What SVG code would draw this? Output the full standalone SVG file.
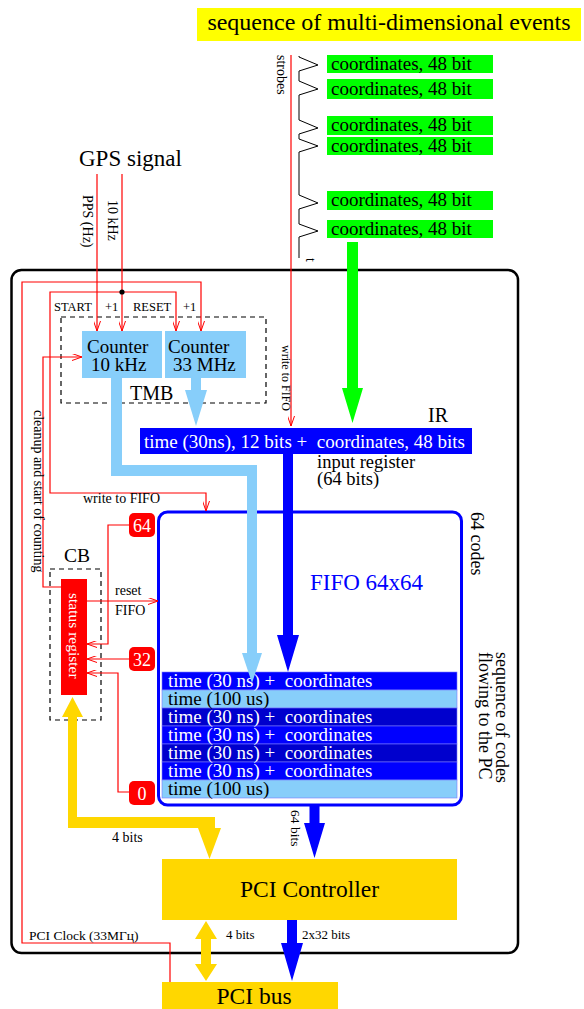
<svg xmlns="http://www.w3.org/2000/svg" width="584" height="1009" viewBox="0 0 584 1009">
<style>
text{font-family:"Liberation Serif","Times New Roman",serif;fill:#000}
.w{fill:#fff}
.red{fill:none;stroke:#ff0000;stroke-width:1.2}
.dash{fill:none;stroke:#000;stroke-width:1.2;stroke-dasharray:5 4}
.g{fill:#00ff00}
.row{stroke:#7a7aff;stroke-width:0.6}
</style>
<defs>
<marker id="ah" viewBox="0 0 10 7" refX="10" refY="3.5" markerWidth="10" markerHeight="7" markerUnits="userSpaceOnUse" orient="auto">
<path d="M0,0 L10,3.5 L0,7" fill="none" stroke="#ff0000" stroke-width="1"/>
</marker>
</defs>
<rect width="584" height="1009" fill="#fff"/>

<g id="title">
<rect x="197" y="8" width="384" height="33" fill="#ffff00"/>
<text x="389" y="30" font-size="24" text-anchor="middle">sequence of multi-dimensional events</text>
</g>

<g id="events">
<rect class="g" x="327" y="55" width="166" height="18"/>
<text x="331" y="70" font-size="19">coordinates, 48 bit</text>
<rect class="g" x="327" y="79" width="166" height="20"/>
<text x="331" y="95" font-size="19">coordinates, 48 bit</text>
<rect class="g" x="327" y="116" width="166" height="19"/>
<text x="331" y="131" font-size="19">coordinates, 48 bit</text>
<rect class="g" x="327" y="137" width="166" height="18"/>
<text x="331" y="152" font-size="19">coordinates, 48 bit</text>
<rect class="g" x="327" y="191" width="166" height="19"/>
<text x="331" y="206" font-size="19">coordinates, 48 bit</text>
<rect class="g" x="327" y="220" width="166" height="18"/>
<text x="331" y="235" font-size="19">coordinates, 48 bit</text>
</g>

<g id="strobes">
<path d="M299,56 L299,57 L318,65 L299,71 L299,81 L318,89 L299,95 L299,120 L318,128 L299,134 L299,139 L318,146 L299,152 L299,195 L318,203 L299,209 L299,224 L318,231 L299,237 L299,258" fill="none" stroke="#000" stroke-width="1"/>
<text transform="translate(277,55) rotate(90)" font-size="14">strobes</text>
<text transform="translate(306,258) rotate(90)" font-size="14">t</text>
</g>

<g id="gps">
<text x="79" y="166" font-size="23">GPS signal</text>
<text transform="translate(82.5,195) rotate(90)" font-size="14">PPS (Hz)</text>
<text transform="translate(108,200) rotate(90)" font-size="14">10 kHz</text>
</g>

<g id="board">
<rect x="11.5" y="270" width="506.5" height="683" rx="10" fill="none" stroke="#000" stroke-width="2.5"/>
</g>

<g id="tmb">
<rect class="dash" x="61" y="317" width="205" height="86"/>
<text x="130" y="400" font-size="20">TMB</text>
<text x="54" y="311" font-size="12.5">START</text>
<text x="105" y="311" font-size="12.5">+1</text>
<text x="133" y="311" font-size="12.5">RESET</text>
<text x="183" y="311" font-size="12.5">+1</text>
</g>

<g id="counter10">
<rect x="82" y="331" width="80" height="47" fill="#87cefa"/>
<text x="87" y="353" font-size="19">Counter</text>
<text x="91" y="371" font-size="19">10 kHz</text>
</g>

<g id="counter33">
<rect x="165" y="331" width="81" height="47" fill="#87cefa"/>
<text x="168" y="353" font-size="19">Counter</text>
<text x="173" y="371" font-size="19">33 MHz</text>
</g>

<g id="ir">
<rect x="140" y="428" width="332" height="26" fill="#0000ff"/>
<text class="w" x="144" y="448" font-size="19" xml:space="preserve">time (30ns), 12 bits +  coordinates, 48 bits</text>
<text x="428" y="422" font-size="20">IR</text>
<text x="317" y="468" font-size="18.5">input register</text>
<text x="317" y="485" font-size="18.5">(64 bits)</text>
</g>

<g id="fifo">
<rect x="158.5" y="512" width="303" height="293" rx="9" fill="#fff" stroke="#0000ff" stroke-width="3"/>
<text x="310" y="590" font-size="23" fill="#0000ff" style="fill:#0000ff">FIFO 64x64</text>
<rect class="row" x="162" y="672" width="295" height="18" fill="#0000ff"/>
<rect class="row" x="162" y="690" width="295" height="18" fill="#87cefa"/>
<rect class="row" x="162" y="708" width="295" height="18" fill="#0000cd"/>
<rect class="row" x="162" y="726" width="295" height="18" fill="#0000ff"/>
<rect class="row" x="162" y="744" width="295" height="18" fill="#0000cd"/>
<rect class="row" x="162" y="762" width="295" height="18" fill="#0000ff"/>
<rect class="row" x="162" y="780" width="295" height="18" fill="#87cefa"/>
<text class="w" x="168" y="687" font-size="19" xml:space="preserve">time (30 ns) +  coordinates</text>
<text x="168" y="705" font-size="19">time (100 us)</text>
<text class="w" x="168" y="723" font-size="19" xml:space="preserve">time (30 ns) +  coordinates</text>
<text class="w" x="168" y="741" font-size="19" xml:space="preserve">time (30 ns) +  coordinates</text>
<text class="w" x="168" y="759" font-size="19" xml:space="preserve">time (30 ns) +  coordinates</text>
<text class="w" x="168" y="777" font-size="19" xml:space="preserve">time (30 ns) +  coordinates</text>
<text x="168" y="795" font-size="19">time (100 us)</text>
<text transform="translate(471,512) rotate(90)" font-size="18">64 codes</text>
<text transform="translate(496,652) rotate(90)" font-size="18">sequence of codes</text>
<text transform="translate(479,652) rotate(90)" font-size="18">flowing to the PC</text>
</g>

<g id="badge64">
<rect x="129" y="513" width="26" height="24" rx="5" fill="#ff0000"/>
<text class="w" x="142" y="532" font-size="18" text-anchor="middle">64</text>
</g>
<g id="badge32">
<rect x="129" y="647" width="26" height="24" rx="5" fill="#ff0000"/>
<text class="w" x="142" y="666" font-size="18" text-anchor="middle">32</text>
</g>
<g id="badge0">
<rect x="129" y="781" width="26" height="24" rx="5" fill="#ff0000"/>
<text class="w" x="142" y="800" font-size="18" text-anchor="middle">0</text>
</g>

<g id="cb">
<rect class="dash" x="50" y="569" width="51" height="151"/>
<text x="64" y="562" font-size="19.5">CB</text>
<rect x="61" y="579" width="26" height="116" fill="#ff0000"/>
<text class="w" transform="translate(69,593) rotate(90)" font-size="15.5">status register</text>
</g>

<g id="pcictrl">
<rect x="162" y="859" width="295" height="61" fill="#ffd700"/>
<text x="309.5" y="897" font-size="23.5" text-anchor="middle">PCI Controller</text>
</g>

<g id="pcibus">
<rect x="162" y="982" width="176" height="27" fill="#ffd700"/>
<text x="254" y="1004" font-size="23.5" text-anchor="middle">PCI bus</text>
</g>

<g id="connectors">
<path class="red" d="M170,982 V943 H22 V282 H201 V331" marker-end="url(#ah)"/>
<path class="red" d="M97,174 V331" marker-end="url(#ah)"/>
<path class="red" d="M122,174 V331" marker-end="url(#ah)"/>
<path class="red" d="M122,292 H176 V331" marker-end="url(#ah)"/>
<path class="red" d="M122,292 H50 V493 H206 V511" marker-end="url(#ah)"/>
<circle cx="122" cy="292" r="2.6" fill="#000"/>
<path class="red" d="M61,587 H43 V357 H82" marker-end="url(#ah)"/>
<path class="red" d="M291,55 V426" marker-end="url(#ah)"/>
<path class="red" d="M129,525 H108 V644 H87" marker-end="url(#ah)"/>
<path class="red" d="M129,659 H87" marker-end="url(#ah)"/>
<path class="red" d="M129,792 H118 V673 H87" marker-end="url(#ah)"/>
<path class="red" d="M87,601 H158" marker-end="url(#ah)"/>

<polygon fill="#00ff00" points="347,242 358,242 358,388 363,388 352.5,423 342,388 347,388"/>
<polygon fill="#87cefa" points="191,378 201,378 201,390 207,390 196,426 185,390 191,390"/>
<polygon fill="#87cefa" points="111,378 122,378 122,465 257,465 257,653 262,653 252,683 242,653 247,653 247,476 111,476"/>
<polygon fill="#0000ff" points="283,454 293,454 293,635 299,635 288,672 277,635 283,635"/>
<polygon fill="#0000ff" points="309.5,805 319.5,805 319.5,823 325,823 314.5,858 304,823 309.5,823"/>
<polygon fill="#0000ff" points="287,920 297,920 297,943 303,943 292,981 281,943 287,943"/>
<polygon fill="#ffd700" points="72.5,697 83,717 77,717 77,817 215,817 215,828 221,828 209.5,859 198,828 68,828 68,717 62,717"/>
<polygon fill="#ffd700" points="206,921 217,939 211,939 211,964 217,964 206,981 195,964 201,964 201,939 195,939"/>

<text transform="translate(282,345) rotate(90)" font-size="12">write to FIFO</text>
<text transform="translate(34,410) rotate(90)" font-size="14">cleanup and start of counting</text>
<text x="83" y="503" font-size="14">write to FIFO</text>
<text x="115" y="595" font-size="14">reset</text>
<text x="115" y="615" font-size="14">FIFO</text>
<text x="112" y="842" font-size="14">4 bits</text>
<text transform="translate(291,810) rotate(90)" font-size="13.5">64 bits</text>
<text x="226" y="939" font-size="13">4 bits</text>
<text x="302" y="939" font-size="13">2x32 bits</text>
<text x="29" y="940" font-size="13.5">PCI Clock (33MГц)</text>
</g>
</svg>
